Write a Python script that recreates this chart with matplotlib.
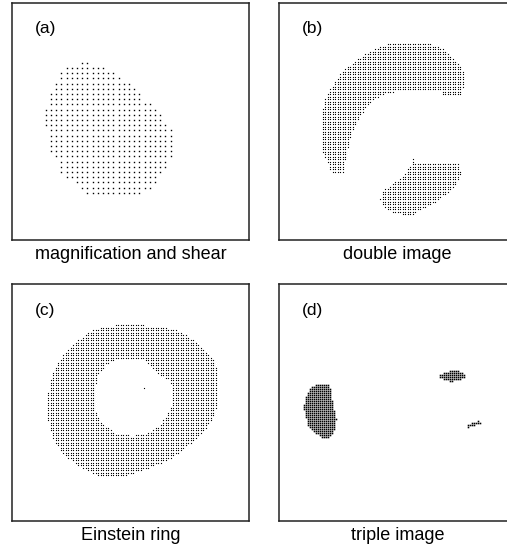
import numpy as np
import matplotlib.pyplot as plt
from matplotlib.path import Path

plt.rcParams['font.family'] = ['Liberation Sans', 'DejaVu Sans']

# Panel coordinates: x to the right, y downward, 0..237 across each frame
SIZE = 237.0

panel_tags = ["(a)", "(b)", "(c)", "(d)"]
captions = ["magnification and shear", "double image", "Einstein ring", "triple image"]
grid_steps = [5.2, 2.5, 2.5, 2.0]

# (a) sheared, magnified image of a round source
image_a = [(71, 59), (55, 64), (48, 71), (43, 77), (41, 82), (41, 87), (36, 95), (35, 102),
           (30, 112), (30, 119), (35, 127), (35, 135), (35, 144), (41, 152), (46, 162),
           (48, 170), (60, 179), (70, 189), (83, 195), (118, 195), (136, 189), (145, 179),
           (151, 170), (156, 162), (160, 152), (161, 144), (161, 135), (160, 127), (155, 119),
           (150, 112), (141, 102), (131, 95), (125, 87), (120, 82), (113, 77), (103, 71),
           (95, 64), (77, 59)]

# (b) arc-shaped primary image and the smaller counter-image
arc_b = [(52.7, 168.7), (42.7, 147), (42.7, 110.3), (46, 97), (52.7, 83.7), (61, 72), (71, 62),
         (84.3, 52), (97.7, 45.3), (111, 39.7), (131, 39.7), (149.3, 40.3), (162.7, 45.3),
         (172.7, 53.7), (181, 62), (184.3, 70.3), (184.3, 83.7), (181, 92), (164.3, 92),
         (161, 86.3), (144.3, 87.7), (127.7, 87), (111, 88.7), (99.3, 93.7), (89.3, 100.3),
         (82.7, 110.3), (76, 122), (71, 133.7), (67.7, 147), (65.3, 160.3), (65, 170.3)]
counter_b = [(132.7, 154.3), (135, 154.3), (136, 160.3), (159.3, 160.3), (167.7, 159.7),
             (179.3, 161), (181.7, 170.3), (178.3, 178.7), (171, 187), (159.3, 197), (151, 202),
             (137.7, 207.7), (134.3, 211), (122.7, 211), (111, 207.7), (104.3, 203), (101, 197),
             (102.7, 188.7), (111, 183), (119.3, 177), (126, 170.3), (131, 163.7), (132.7, 160.3)]

# (c) Einstein ring: outer rim, inner hole, and the faint central image
ring_outer_c = [(91.3, 42), (121.3, 41), (148, 42.7), (164.7, 46), (178, 54.3), (191.3, 64.3),
                (201.3, 76), (204.7, 86), (205.3, 119.3), (201.3, 132.7), (193, 144.3),
                (181.3, 156), (168, 167.7), (154.7, 176), (138, 182.7), (124.7, 187.7),
                (109.7, 192.7), (91.3, 193.3), (81.3, 189.3), (68, 182.7), (54.7, 172.7),
                (44.7, 161), (39.7, 149.3), (36.3, 136), (36.3, 109.3), (39.7, 92.7),
                (46.3, 77.7), (54.7, 67.7), (64.7, 57.7), (74.7, 49.3)]
ring_hole_c = [(103, 75.3), (131.3, 74.3), (138, 81), (148, 91), (158, 96), (161.3, 106),
               (161.3, 119.3), (156.3, 129.3), (148, 141), (134.7, 149.3), (119.7, 152),
               (103, 149.3), (89.7, 139.3), (83, 126), (81.3, 109.3), (84.7, 92.7), (93, 81)]
central_c = [(132, 103.7)]

# (d) three separated images
blob1_d = [(39.3, 100), (49.3, 100), (51, 106), (52.7, 116), (54.3, 126), (56.7, 134.3),
           (56, 142.7), (52.7, 149.3), (47.7, 154.3), (42.7, 152.7), (34.3, 147.7),
           (29.3, 141), (26, 129.3), (25, 122.7), (27, 112.7), (31, 104.3)]
blob2_d = [(159.3, 92), (167.7, 87.7), (176, 86), (184.3, 89.3), (185, 92.7), (179.3, 96),
           (171, 97), (164.3, 94.3)]
blob3_d = [(187.7, 142), (192.7, 139.3), (200.3, 136.7), (201, 138.7), (194.3, 141.7),
           (188.3, 143.3)]

# frame positions in figure pixels: left, top
frames = [(12, 3), (279, 3), (12, 284), (279, 284)]

W, H = 507, 550
fig = plt.figure(figsize=(W / 100, H / 100), dpi=100)


def grid_points(step):
    g = np.arange(step / 2, SIZE, step)
    gx, gy = np.meshgrid(g, g)
    return np.column_stack([gx.ravel(), gy.ravel()])


def select(pts, include, exclude=()):
    mask = np.zeros(len(pts), dtype=bool)
    for poly in include:
        mask |= Path(np.asarray(poly)).contains_points(pts, radius=0.8)
    for poly in exclude:
        mask &= ~Path(np.asarray(poly)).contains_points(pts, radius=-0.8)
    return pts[mask]


shapes = [
    ([image_a], []),
    ([arc_b, counter_b], []),
    ([ring_outer_c], [ring_hole_c]),
    ([blob1_d, blob2_d, blob3_d], []),
]
marker_sizes = [1.0, 0.8, 0.8, 1.15]

for i, (left, top) in enumerate(frames):
    ax = fig.add_axes([left / W, 1 - (top + SIZE) / H, SIZE / W, SIZE / H])
    ax.set_xlim(0, SIZE)
    ax.set_ylim(SIZE, 0)
    ax.set_xticks([])
    ax.set_yticks([])
    for sp in ax.spines.values():
        sp.set_linewidth(1.1)
        sp.set_color('#222222')

    inc, exc = shapes[i]
    pts = select(grid_points(grid_steps[i]), inc, exc)
    if i == 2:
        pts = np.vstack([pts, np.asarray(central_c)])
    ax.plot(pts[:, 0], pts[:, 1], ls='none', marker='s', ms=marker_sizes[i], mew=0,
            color='black')

    ax.text(23, 26, panel_tags[i], fontsize=12.5, va='center', ha='left')
    ax.text(SIZE / 2, SIZE + 15, captions[i], fontsize=13, va='center', ha='center',
            clip_on=False)

fig.savefig('out.png', dpi=100)
